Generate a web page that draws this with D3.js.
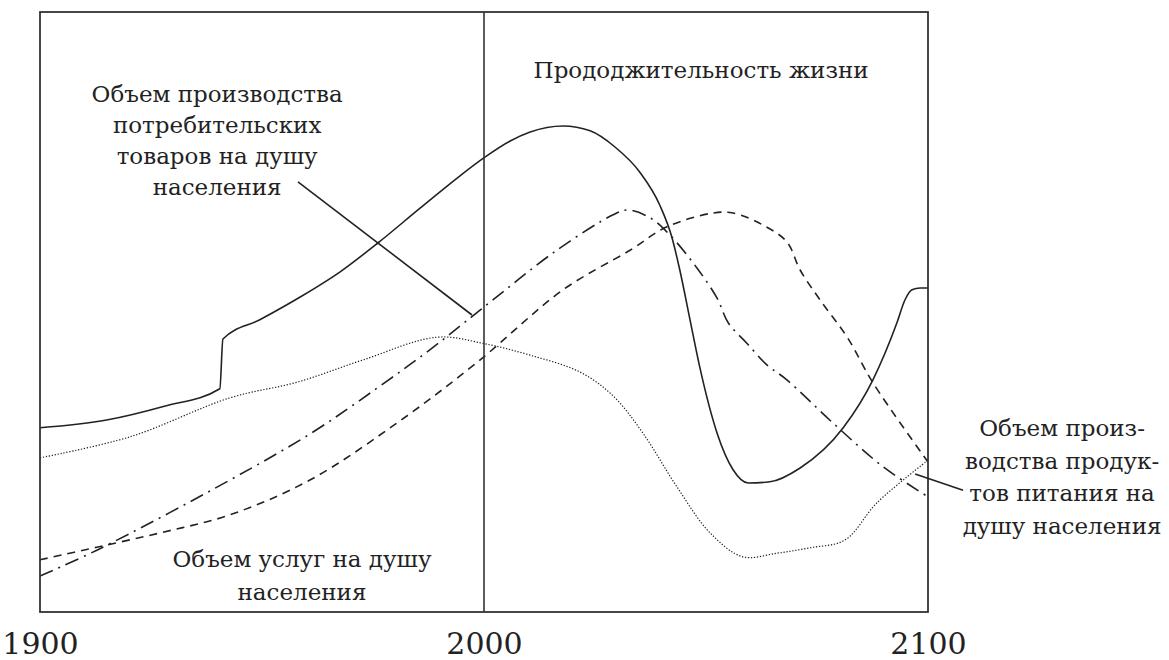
<!DOCTYPE html>
<html>
<head>
<meta charset="utf-8">
<script src="https://cdn.jsdelivr.net/npm/d3@7"></script>
<style>
html,body{margin:0;padding:0;background:#fff;}
svg{display:block;}
text{font-family:"DejaVu Serif","Liberation Serif",serif;fill:#222;}
</style>
</head>
<body>
<svg id="chart" width="1169" height="660"></svg>
<script>
// ---- data (years, relative index 0..100) ----
const xTicks = [1900, 2000, 2100];

const consumerGoods = [
  [1900,30.7],[1915,32],[1928,34.3],[1940.5,37.2],[1941.2,45.5],
  [1949.5,48.7],[1958.6,52.5],[1967.6,56.7],[1976.1,61.5],[1985.6,67.3],[1994.6,72.7],
  [2000.2,75.8],[2005.9,78.5],[2010.4,80],[2017.8,81],[2023.9,80.2],[2029.5,77.5],
  [2035.1,73.3],[2039.6,67.8],[2042.3,62.5],[2044.1,57],[2046.4,48.7],[2048.6,40.8],
  [2052.5,29.8],[2056.1,23.7],[2059.5,21.5],[2064.4,21.7],[2071.2,24],[2080.9,30.7],
  [2087.6,38.7],[2093,48.2],[2094.8,52],[2096.4,53.7],[2098.2,54],[2100,54]
];
const foodProduction = [
  [1900,6],[1912.8,10.3],[1942.8,22],[1961.5,30],[1975.9,37.3],[1987.8,43.7],
  [1999.1,50.3],[2016.4,60.3],[2029.1,66.2],[2032.4,67],[2037.4,65.7],[2041.9,62.8],
  [2048,57.3],[2052.5,52.3],[2055,48.2],[2059.2,44.8],[2063.7,41.2],[2068.2,38.7],
  [2078.6,31.5],[2089.9,24.2],[2100,19.2]
];
const lifeExpectancy = [
  [1900,8.7],[1912.8,10.8],[1927.7,13.3],[1942.8,16.2],[1960.8,22],[1980.4,31.5],
  [1998.6,41.7],[2017.8,53.7],[2032.9,60.3],[2041.2,64.2],[2051.6,66.5],[2056.1,66.5],
  [2062.8,64.5],[2068.2,61.7],[2071.2,57],[2075.7,52],[2081.8,45.8],[2087.6,38.2],[2100,25]
];
const services = [
  [1900,25.7],[1920.3,29.2],[1942.8,35.7],[1957.9,38.3],[1972.7,42],[1989.4,45.8],
  [2000.2,44.7],[2010.4,42.8],[2021.6,40],[2029.1,36],[2035.8,29.8],[2043.5,20.8],
  [2050.9,13.2],[2058.3,9.2],[2066,9.8],[2073.4,10.7],[2081.3,12],[2088.5,18.2],[2100,25.3]
];

const pointerLines = [
  [[1958.1,71.7],[1997.3,49.5]],
  [[2097.1,23],[2107.9,20.3]]
];

const labels = [
  {lines:["Объем производства","потребительских","товаров на душу","населения"], year:1939.9, value:85, lh:31},
  {lines:["Прододжительность жизни"], year:2048.9, value:89, lh:31},
  {lines:["Объем услуг на душу","населения"], year:1959, value:7.5, lh:33},
  {lines:["Объем произ-","водства продук-","тов питания на","душу населения"], year:2130.2, value:29.3, lh:32.5}
];

// ---- drawing ----
const svg = d3.select("#chart");
const mLeft = 40, mRight = 928, mTop = 12, mBottom = 612;
const x = d3.scaleLinear().domain([1900, 2100]).range([mLeft, mRight]);
const y = d3.scaleLinear().domain([0, 100]).range([mBottom, mTop]);

const smooth = d3.curveCatmullRom.alpha(0.5);
const seriesStyles = [
  {data: consumerGoods, dash: null, w: 1.6, curve: d3.curveMonotoneX},
  {data: foodProduction, dash: "14,6,2,6", w: 1.6, curve: smooth},
  {data: lifeExpectancy, dash: "8,6", w: 1.6, curve: smooth},
  {data: services, dash: "1.3,1.7", w: 1.2, curve: smooth}
];
seriesStyles.forEach(s => {
  const line = d3.line().x(d => x(d[0])).y(d => y(d[1])).curve(s.curve);
  svg.append("path")
    .attr("d", line(s.data))
    .attr("fill", "none")
    .attr("stroke", "#222")
    .attr("stroke-width", s.w)
    .attr("stroke-dasharray", s.dash);
});

svg.append("rect")
  .attr("x", mLeft).attr("y", mTop)
  .attr("width", mRight - mLeft).attr("height", mBottom - mTop)
  .attr("fill", "none").attr("stroke", "#333").attr("stroke-width", 1.8);

svg.append("line")
  .attr("x1", x(2000)).attr("x2", x(2000))
  .attr("y1", mTop).attr("y2", mBottom)
  .attr("stroke", "#333").attr("stroke-width", 1.6);

pointerLines.forEach(p => {
  svg.append("line")
    .attr("x1", x(p[0][0])).attr("y1", y(p[0][1]))
    .attr("x2", x(p[1][0])).attr("y2", y(p[1][1]))
    .attr("stroke", "#222").attr("stroke-width", 1.6);
});

labels.forEach(l => {
  const t = svg.append("text")
    .attr("text-anchor", "middle")
    .attr("font-size", 23)
    .attr("x", x(l.year)).attr("y", y(l.value));
  l.lines.forEach((s, i) => {
    t.append("tspan").attr("x", x(l.year)).attr("y", y(l.value) + i * l.lh).text(s);
  });
});

const axis = d3.axisBottom(x).tickValues(xTicks).tickFormat(d3.format("d")).tickSize(0).tickPadding(0);
const g = svg.append("g").attr("transform", `translate(0,${mBottom})`).call(axis);
g.select(".domain").remove();
g.selectAll("text")
  .attr("y", 42)
  .attr("dy", null)
  .attr("font-family", "Liberation Serif")
  .attr("font-size", 30)
  .attr("fill", "#222");
</script>
</body>
</html>
